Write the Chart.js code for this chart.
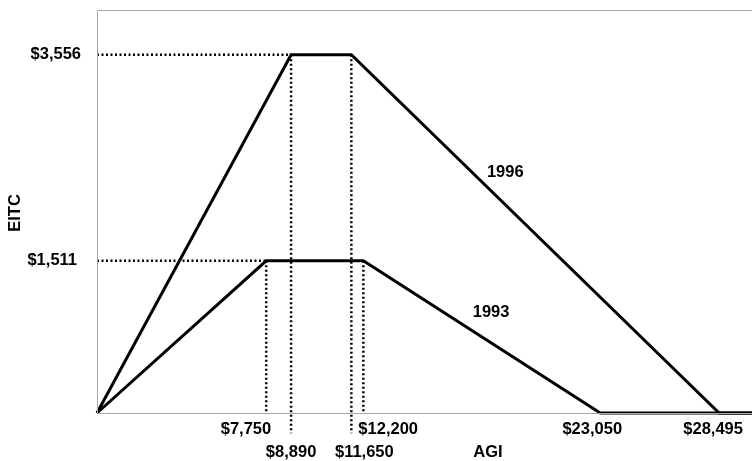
<!DOCTYPE html>
<html lang="en">
<head>
    <meta charset="UTF-8">
    <title>EITC 1993 vs 1996</title>
    <script src="https://cdn.jsdelivr.net/npm/chart.js"></script>
    <style>
        html, body { margin: 0; padding: 0; background: #fff; }
        #wrap { width: 752px; height: 461px; position: relative; }
    </style>
</head>
<body>
    <div id="wrap"><canvas id="grafico"></canvas></div>
    <script>
        // breakpoints of the credit schedule
        const agi1993 = [0, 7750, 12200, 23050, 30000];
        const eitc1993 = [0, 1511, 1511, 0, 0];
        const agi1996 = [0, 8890, 11650, 28495, 30000];
        const eitc1996 = [0, 3556, 3556, 0, 0];

        const yTicks = [3556, 1511];
        const yTickLabels = ['$3,556', '$1,511'];
        const xTicks = [7750, 8890, 11650, 12200, 23050, 28495];
        const xTickLabels = ['$7,750', '$8,890', '$11,650', '$12,200', '$23,050', '$28,495'];

        const seriesNames = ['1993', '1996'];

        const FONT = 'bold 16.5px "Liberation Sans", Arial, sans-serif';

        function pts(xs, ys) {
            return xs.map((x, i) => ({ x: x, y: ys[i] }));
        }

        // dotted guides: horizontal to the plateau start, vertical from each breakpoint
        const guides = [
            { data: [{ x: 0, y: eitc1996[1] }, { x: agi1996[1], y: eitc1996[1] }] },
            { data: [{ x: 0, y: eitc1993[1] }, { x: agi1993[1], y: eitc1993[1] }] },
            { data: [{ x: agi1993[1], y: eitc1993[1] }, { x: agi1993[1], y: 0 }] },
            { data: [{ x: agi1993[2], y: eitc1993[2] }, { x: agi1993[2], y: 0 }] },
            { data: [{ x: agi1996[1], y: eitc1996[1] }, { x: agi1996[1], y: -200 }] },
            { data: [{ x: agi1996[2], y: eitc1996[2] }, { x: agi1996[2], y: -200 }] }
        ].map(g => ({
            data: g.data,
            showLine: true,
            borderColor: '#000',
            borderWidth: 2.5,
            borderDash: [2, 2.5],
            pointRadius: 0,
            clip: false
        }));

        // label placement (pixel offsets, alignment, row)
        const xLabelStyle = [
            { align: 'right', dx: 5, row: 0 },
            { align: 'center', dx: 0, row: 1 },
            { align: 'center', dx: 13, row: 1 },
            { align: 'left', dx: -5, row: 0 },
            { align: 'center', dx: -8, row: 0 },
            { align: 'center', dx: -6, row: 0 }
        ];

        const etiquetas = {
            id: 'etiquetas',
            afterDraw(chart) {
                const ctx = chart.ctx;
                const a = chart.chartArea;
                const xs = chart.scales.x;
                const ys = chart.scales.y;
                ctx.save();
                // plot frame
                ctx.strokeStyle = '#a6a6a6';
                ctx.lineWidth = 1;
                ctx.beginPath();
                ctx.moveTo(a.right, a.top + 0.5);
                ctx.lineTo(a.left + 0.5, a.top + 0.5);
                ctx.lineTo(a.left + 0.5, a.bottom + 0.5);
                ctx.lineTo(a.right, a.bottom + 0.5);
                ctx.stroke();

                ctx.fillStyle = '#000';
                ctx.font = FONT;
                ctx.textBaseline = 'middle';

                // y tick labels
                ctx.textAlign = 'right';
                yTicks.forEach((v, i) => {
                    ctx.fillText(yTickLabels[i], a.left - 16 - (i === 1 ? 4 : 0), ys.getPixelForValue(v));
                });

                // x tick labels
                xTicks.forEach((v, i) => {
                    const s = xLabelStyle[i];
                    ctx.textAlign = s.align;
                    ctx.fillText(xTickLabels[i], xs.getPixelForValue(v) + s.dx, a.bottom + 16 + s.row * 23);
                });

                // axis titles
                ctx.textAlign = 'center';
                ctx.fillText('AGI', 488, a.bottom + 39);
                ctx.save();
                ctx.translate(15, 213);
                ctx.rotate(-Math.PI / 2);
                ctx.fillText('EITC', 0, 0);
                ctx.restore();

                // series labels
                ctx.fillText(seriesNames[1], xs.getPixelForValue(18700), ys.getPixelForValue(2390));
                ctx.fillText(seriesNames[0], xs.getPixelForValue(18050), ys.getPixelForValue(1000));
                ctx.restore();
            }
        };

        new Chart(document.getElementById('grafico'), {
            type: 'scatter',
            data: {
                datasets: [
                    {
                        label: seriesNames[1],
                        data: pts(agi1996, eitc1996),
                        showLine: true,
                        borderColor: '#000',
                        borderWidth: 3,
                        pointRadius: 0,
                        clip: false
                    },
                    {
                        label: seriesNames[0],
                        data: pts(agi1993, eitc1993),
                        showLine: true,
                        borderColor: '#000',
                        borderWidth: 3,
                        pointRadius: 0,
                        clip: false
                    },
                    ...guides
                ]
            },
            options: {
                responsive: true,
                maintainAspectRatio: false,
                animation: false,
                layout: { padding: { left: 97, top: 10, right: 0, bottom: 48 } },
                plugins: {
                    legend: { display: false },
                    tooltip: { enabled: false }
                },
                scales: {
                    x: { type: 'linear', min: 0, max: 30000, display: false },
                    y: { type: 'linear', min: 0, max: 4000, display: false }
                }
            },
            plugins: [etiquetas]
        });
    </script>
</body>
</html>
